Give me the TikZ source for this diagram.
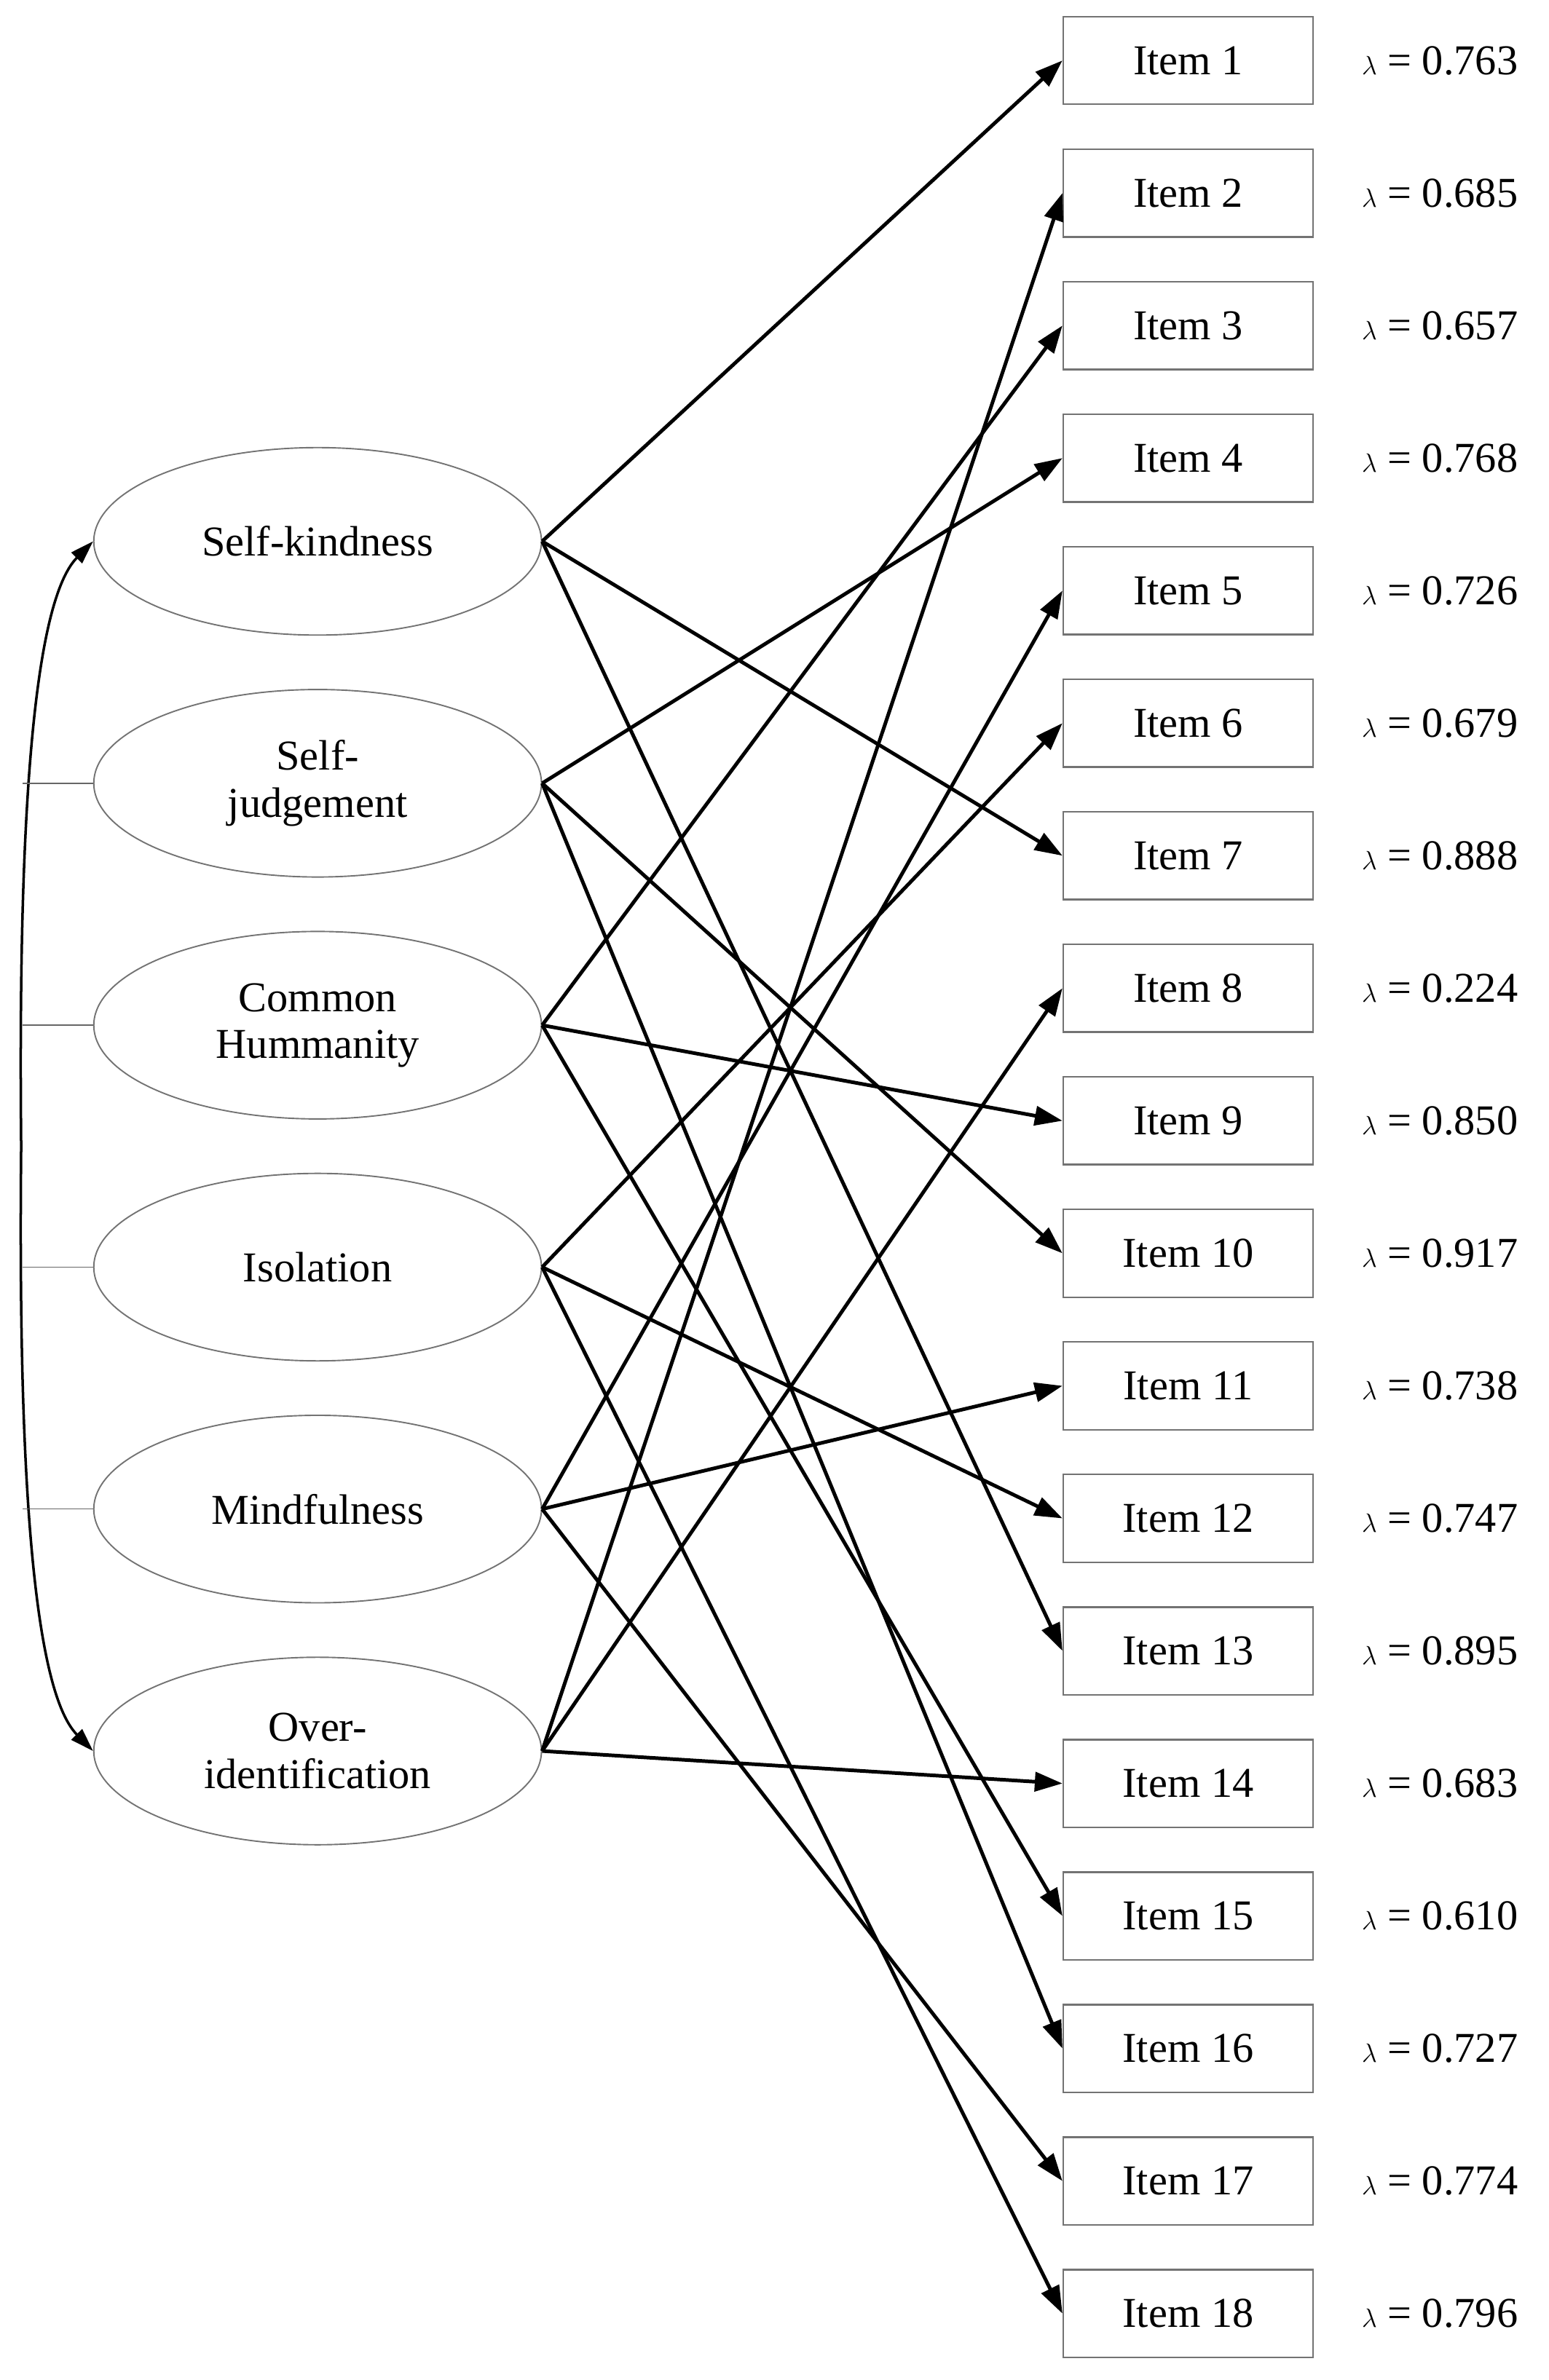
\documentclass[tikz,border=0pt]{standalone}
\usepackage{fontspec}
\setmainfont{Liberation Serif}
\usetikzlibrary{shapes.geometric,arrows.meta}
\begin{document}
\begin{tikzpicture}[x=0.05cm,y=-0.05cm,
  lat/.style={ellipse,draw=black!55,line width=1.3pt,minimum width=14.8cm,minimum height=6.2cm,inner sep=0pt,align=center,font=\fontsize{40}{44}\selectfont},
  item/.style={rectangle,draw=black!55,line width=1.6pt,minimum width=8.25cm,minimum height=2.9cm,inner sep=0pt,font=\fontsize{40}{44}\selectfont},
  lam/.style={font=\fontsize{40}{44}\selectfont},
  ld/.style={line width=3.4pt,-{Triangle[length=26pt,width=18pt]}},
  tick/.style={line width=1pt,black!60}]
\useasboundingbox (0,0) rectangle (1024,1574);
\node[lat] (SK) at (210,358) {Self-kindness};
\node[lat] (SJ) at (210,518) {Self-\\judgement};
\node[lat] (CH) at (210,678) {Common\\Hummanity};
\node[lat] (IS) at (210,838) {Isolation};
\node[lat] (MF) at (210,998) {Mindfulness};
\node[lat] (OI) at (210,1158) {Over-\\identification};
\foreach \i/\l in {1/0.763,2/0.685,3/0.657,4/0.768,5/0.726,6/0.679,7/0.888,8/0.224,9/0.850,10/0.917,11/0.738,12/0.747,13/0.895,14/0.683,15/0.610,16/0.727,17/0.774,18/0.796}{
  \node[item] (I\i) at (785.5,{40+(\i-1)*87.65}) {Item \i};
  \node[lam] (L\i) at (952,{40+(\i-1)*87.65}) {$\lambda$ = \l};
}
\foreach \f/\a/\b/\c in {SK/1/7/13,SJ/4/10/16,CH/3/9/15,IS/6/12/18,MF/5/11/17,OI/2/8/14}{
  \draw[ld] (\f.east) -- (I\a.west);
  \draw[ld] (\f.east) -- (I\b.west);
  \draw[ld] (\f.east) -- (I\c.west);
}
\coordinate (cl) at (14,758);
\draw[line width=2.4pt,{Triangle[length=22pt,width=14pt]}-{Triangle[length=22pt,width=14pt]}] (SK.west) .. controls (20,400) and (12,560) .. (cl) .. controls (12,956) and (20,1116) .. (OI.west);
\foreach \n/\y in {SJ/518,CH/678,IS/838,MF/998}{
  \coordinate (t\n) at (15,\y);
  \draw[tick] (t\n) -- (\n.west);
}
\end{tikzpicture}
\end{document}
